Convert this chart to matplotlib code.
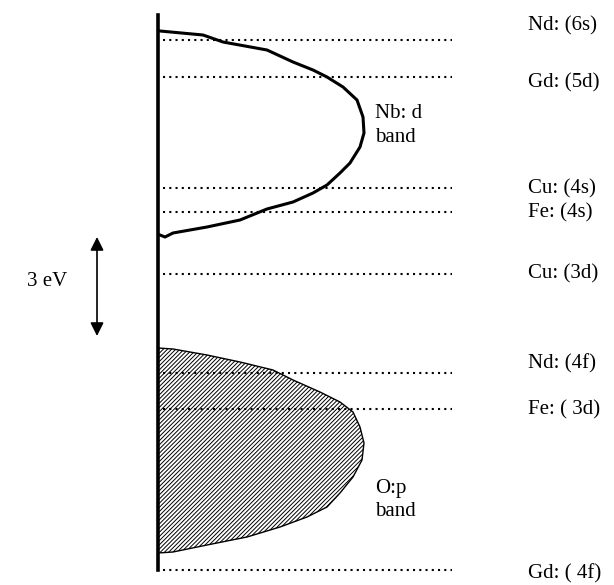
import matplotlib.pyplot as plt
from matplotlib.patches import Polygon

plt.rcParams['font.family'] = ['Liberation Serif', 'DejaVu Serif']
plt.rcParams['hatch.color'] = '#707070'
plt.rcParams['hatch.linewidth'] = 0.7

# energy levels (pixel y of the schematic, top = high energy)
level_labels = ['Nd: (6s)', 'Gd: (5d)', 'Cu: (4s)', 'Fe: (4s)', 'Cu: (3d)',
                'Nd: (4f)', 'Fe: ( 3d)', 'Gd: ( 4f)']
level_y = [40, 77, 188, 212, 274, 373, 409, 570]
label_y = [26, 83, 189, 213, 274, 364, 410, 574]

# Nb: d band outline (energy, width from axis)
nb_y = [31, 35, 42, 50, 62, 70, 77, 87, 100, 117, 133, 147, 163, 173, 185,
        193, 202, 209, 220, 227, 233, 237, 235]
nb_w = [2, 45, 65, 109, 135, 155, 169, 185, 199, 205, 206, 202, 192, 182, 169,
        155, 135, 109, 82, 49, 15, 7, 2]

# O:p band outline
op_y = [348, 349, 355, 362, 370, 380, 392, 402, 412, 427, 443, 460, 477, 493,
        507, 517, 527, 537, 545, 552, 553]
op_w = [0, 15, 49, 82, 115, 135, 162, 182, 195, 202, 206, 204, 195, 182,
        169, 149, 122, 89, 49, 15, 0]

axis_x = 158

fig = plt.figure(figsize=(6.14, 5.85), dpi=100)
ax = fig.add_axes([0, 0, 1, 1])
ax.set_xlim(0, 614)
ax.set_ylim(585, 0)
ax.axis('off')

# dotted levels and labels
for y, ly, lab in zip(level_y, label_y, level_labels):
    ax.plot([163, 452], [y, y], color='black', lw=1.5, linestyle=(0, (1, 2)),
            zorder=3)
    ax.text(528, ly, lab, fontsize=15, va='center', ha='left')

# O:p band (hatched)
op_pts = [(axis_x + w, y) for w, y in zip(op_w, op_y)]
ax.add_patch(Polygon(op_pts, closed=True, facecolor='white', edgecolor='black',
                     lw=1.0, hatch='////////', zorder=2))

# Nb: d band outline
ax.plot([axis_x + w for w in nb_w], nb_y, color='black', lw=2.2,
        solid_joinstyle='round', zorder=3)

# vertical energy axis
ax.plot([axis_x, axis_x], [15, 570], color='black', lw=2.6, zorder=4)

ax.text(375, 114, 'Nb: d', fontsize=15, va='center', ha='left')
ax.text(375, 138, 'band', fontsize=15, va='center', ha='left')
ax.text(375, 488, 'O:p', fontsize=15, va='center', ha='left')
ax.text(375, 512, 'band', fontsize=15, va='center', ha='left')

# 3 eV scale arrow
ax.annotate('', xy=(97, 237), xytext=(97, 336),
            arrowprops=dict(arrowstyle='<|-|>', color='black', lw=1.2,
                            mutation_scale=20, shrinkA=0, shrinkB=0))
ax.text(27, 282, '3 eV', fontsize=15, va='center', ha='left')

fig.savefig('out.png', dpi=100)
